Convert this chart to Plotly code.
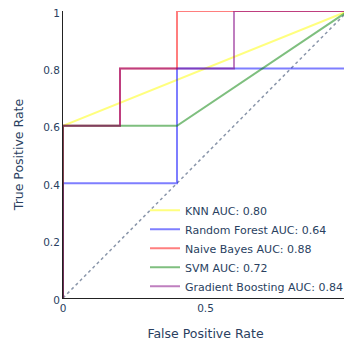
import plotly.graph_objects as go

models = ["KNN", "Random Forest", "Naive Bayes", "SVM", "Gradient Boosting"]
aucs = [0.80, 0.64, 0.88, 0.72, 0.84]
colors = ["yellow", "blue", "red", "green", "purple"]
fprs = [
    [0, 0, 1],
    [0, 0, 0.4, 0.4, 1, 1],
    [0, 0, 0.2, 0.2, 0.4, 0.4, 1],
    [0, 0, 0.4, 1],
    [0, 0, 0.2, 0.2, 0.6, 0.6, 1],
]
tprs = [
    [0, 0.6, 1],
    [0, 0.4, 0.4, 0.8, 0.8, 1],
    [0, 0.6, 0.6, 0.8, 0.8, 1, 1],
    [0, 0.6, 0.6, 1],
    [0, 0.6, 0.6, 0.8, 0.8, 1, 1],
]
x_ticks = [0, 0.5, 1]
y_ticks = [0, 0.2, 0.4, 0.6, 0.8, 1]

fig = go.Figure()
for m, a, c, fx, ty in zip(models, aucs, colors, fprs, tprs):
    fig.add_trace(go.Scatter(x=fx, y=ty, mode="lines", name=f"{m} AUC: {a:.2f}",
                             line=dict(color=c, width=2), opacity=0.5))
fig.add_shape(type="line", x0=0, y0=0, x1=1, y1=1, xref="x", yref="y",
              line=dict(color="#8a96aa", width=1.5, dash="dot"), layer="below")

fig.update_layout(
    width=344, height=338,
    template="plotly_white",
    margin=dict(l=55, r=4, t=3, b=48),
    font=dict(family="Verdana, DejaVu Sans", size=10.5, color="#2a3f5f"),
    xaxis=dict(title=dict(text="False Positive Rate", font=dict(size=12.5), standoff=16),
               range=[0, 1], automargin=False, ticklabeloverflow="allow",
               showgrid=False, zeroline=False, showline=True, linecolor="#222",
               tickvals=x_ticks, ticktext=[str(v) for v in x_ticks], tickfont=dict(size=10.5)),
    yaxis=dict(title=dict(text="True Positive Rate", font=dict(size=12.5), standoff=16),
               range=[0, 1], automargin=False, ticklabeloverflow="allow", ticklabelshift=2,
               showgrid=False, zeroline=False, showline=True, linecolor="#222",
               tickvals=y_ticks, ticktext=[str(v) for v in y_ticks], tickfont=dict(size=10.5)),
    legend=dict(x=1, y=-0.01, xanchor="right", yanchor="bottom", bgcolor="rgba(0,0,0,0)",
                font=dict(size=11), tracegroupgap=0),
    showlegend=True,
)
fig.write_html("out.html")
